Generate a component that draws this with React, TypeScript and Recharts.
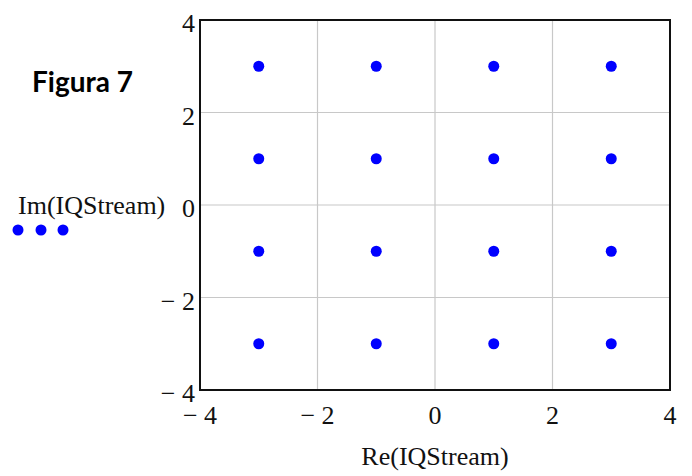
import React from "react";
import {
  ScatterChart,
  Scatter,
  XAxis,
  YAxis,
  CartesianGrid,
  ReferenceArea,
} from "recharts";

// In-phase (Re) and quadrature (Im) components of the 16-QAM IQ stream
const reIQStream = [-3, -1, 1, 3, -3, -1, 1, 3, -3, -1, 1, 3, -3, -1, 1, 3];
const imIQStream = [3, 3, 3, 3, 1, 1, 1, 1, -1, -1, -1, -1, -3, -3, -3, -3];

const xTicks = [-4, -2, 0, 2, 4];
const yTicks = [-4, -2, 0, 2, 4];
const axisMin = -4;
const axisMax = 4;

const xLabel = "Re(IQStream)";
const yLabel = "Im(IQStream)";
const figureTitle = "Figura 7";

const points = reIQStream.map((re, i) => ({ re, im: imIQStream[i] }));

const SERIF = "'Liberation Serif', 'Times New Roman', serif";
const DOT = "#0000ff";
const serifStyle = { fontFamily: SERIF, fontSize: 26 };

const fmt = (v: number) => (v < 0 ? `\u2212 ${-v}` : `${v}`);

const XTick = (props: any) => {
  const { x, y, payload } = props;
  return (
    <text x={x} y={y + 34} textAnchor="middle" style={serifStyle} fill="#111">
      {fmt(payload.value)}
    </text>
  );
};

const YTick = (props: any) => {
  const { x, y, payload } = props;
  return (
    <text x={x} y={y + 12} textAnchor="end" style={serifStyle} fill="#111">
      {fmt(payload.value)}
    </text>
  );
};

const YLabel = () => (
  <g>
    <text x={10} y={206} style={serifStyle} fill="#111">
      {yLabel}
    </text>
    <circle cx={10} cy={222} r={5.5} fill={DOT} />
    <circle cx={33} cy={222} r={5.5} fill={DOT} />
    <circle cx={55} cy={222} r={5.5} fill={DOT} />
    <text
      x={125}
      y={84}
      textAnchor="end"
      style={{ fontFamily: "Lato, 'Open Sans', sans-serif", fontWeight: 700, fontSize: 28 }}
      fill="#000"
    >
      {figureTitle}
    </text>
  </g>
);

const XLabel = (props: any) => {
  const vb = props.viewBox || {};
  const cx = (vb.x ?? 0) + (vb.width ?? 0) / 2;
  return (
    <text x={cx} y={457} textAnchor="middle" style={serifStyle} fill="#111">
      {xLabel}
    </text>
  );
};

const Dot = (props: any) => <circle cx={props.cx} cy={props.cy} r={5.5} fill={DOT} />;

export default function App() {
  return (
    <ScatterChart
      width={684}
      height={468}
      margin={{ top: 12, right: 22, bottom: 26, left: 0 }}
    >
      <CartesianGrid stroke="#c8c8c8" strokeWidth={1.2} />
      <XAxis
        type="number"
        dataKey="re"
        domain={[axisMin, axisMax]}
        ticks={xTicks}
        height={60}
        axisLine={false}
        tickLine={false}
        tickSize={0}
        tickMargin={0}
        tick={(p: any) => <XTick {...p} />}
        interval={0}
        label={<XLabel />}
      />
      <YAxis
        type="number"
        dataKey="im"
        domain={[axisMin, axisMax]}
        ticks={yTicks}
        width={192}
        axisLine={false}
        tickLine={false}
        tickSize={0}
        tickMargin={5}
        tick={(p: any) => <YTick {...p} />}
        interval={0}
        label={<YLabel />}
      />
      <ReferenceArea
        x1={axisMin}
        x2={axisMax}
        y1={axisMin}
        y2={axisMax}
        fill="none"
        fillOpacity={0}
        stroke="#111"
        strokeWidth={2}
        ifOverflow="visible"
      />
      <Scatter data={points} shape={<Dot />} isAnimationActive={false} />
    </ScatterChart>
  );
}
